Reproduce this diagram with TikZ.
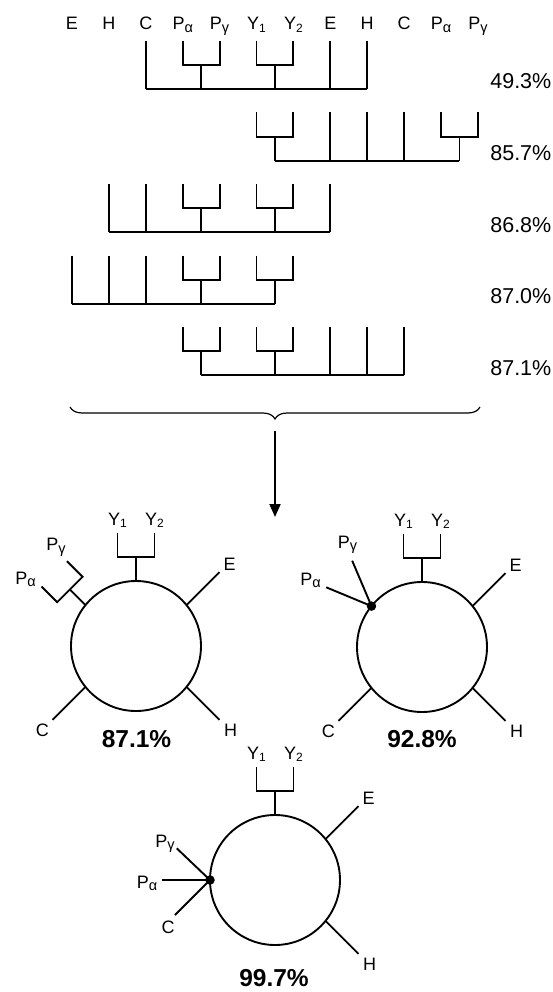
\documentclass[tikz,border=0pt]{standalone}
\usepackage{fontspec}
\setmainfont{Liberation Sans}
\usetikzlibrary{calc,arrows.meta,decorations.pathreplacing}
\newcommand\lsub[1]{\raisebox{-2.8pt}{\fontsize{12}{12}\selectfont #1}}
\newcommand\gsub[1]{\raisebox{-2.8pt}{\fontsize{14.5}{14.5}\selectfont #1}}
\newcommand\X[1]{{72+36.9*(#1)}}
\newcommand\dtree[5]{%
  \foreach \s in {#2} {\draw[ln] (\X{\s},#1) -- (\X{\s},#1+48.3);}
  \foreach \a/\b in {#3} {%
    \draw[ln] (\X{\a},#1) -- (\X{\a},#1+24.3) -- (\X{\b},#1+24.3) -- (\X{\b},#1);
    \draw[ln] (\X{(\a+\b)/2},#1+24.3) -- (\X{(\a+\b)/2},#1+48.3);}
  \draw[ln] (\X{#4},#1+48.3) -- (\X{#5},#1+48.3);}
\newcommand\ybr[1]{%
  \draw[ln] (#1.90) -- ++(0,-24) coordinate (#1j);
  \draw[ln] ($(#1j)+(-18.5,-24)$) -- ($(#1j)+(-18.5,0)$) -- ($(#1j)+(18.5,0)$) -- ($(#1j)+(18.5,-24)$);
  \node[lbl] (#1y1) at ($(#1j)+(-18.5,-32)$) {Y\lsub{1}};
  \node[lbl] (#1y2) at ($(#1j)+(18.5,-32)$) {Y\lsub{2}};}
\newcommand\ehc[1]{%
  \draw[ln] (#1.39) -- ++(33,-33) coordinate (#1e);
  \node[lbl] (#1E) at ($(#1e)+(10,-2)$) {E};
  \draw[ln] (#1.-39) -- ++(33,33) coordinate (#1h);
  \node[lbl] (#1H) at ($(#1h)+(11,17)$) {H};}
\begin{document}
\begin{tikzpicture}[x=1pt,y=-1pt,
  lbl/.style={font=\fontsize{18}{18}\selectfont, inner sep=0pt, anchor=base},
  pct/.style={font=\fontsize{21.5}{21.5}\selectfont, inner sep=0pt, anchor=base east},
  bpct/.style={font=\fontsize{24.5}{24.5}\selectfont\bfseries, inner sep=0pt, anchor=base},
  ln/.style={line width=1.9pt, line cap=square},
  ring/.style={circle, draw, line width=1.9pt, minimum size=130pt, inner sep=0pt, outer sep=0pt},
  dotn/.style={circle, fill, minimum size=9.5pt, inner sep=0pt}]
\useasboundingbox (0,0) rectangle (553,992);
% header
\foreach \i/\t in {0/E,1/H,2/C,3/P\gsub{α},4/P\gsub{γ},5/Y\lsub{1},6/Y\lsub{2},7/E,8/H,9/C,10/P\gsub{α},11/P\gsub{γ}}
  {\node[lbl] (h\i) at (\X{\i},30) {\t};}
% trees
\dtree{40.7}{2,7,8}{3/4,5/6}{2}{8}
\dtree{112.3}{7,8,9}{5/6,10/11}{5.5}{10.5}
\dtree{183.9}{1,2,7}{3/4,5/6}{1}{7}
\dtree{255.5}{0,1,2}{3/4,5/6}{0}{5.5}
\dtree{327.1}{7,8,9}{3/4,5/6}{3.5}{9}
\node[pct] (p1) at (551.5,89) {49.3\%};
\node[pct] (p2) at (551.5,160.6) {85.7\%};
\node[pct] (p3) at (551.5,232.2) {86.8\%};
\node[pct] (p4) at (551.5,303.8) {87.0\%};
\node[pct] (p5) at (551.5,375.4) {87.1\%};
% brace and arrow
\coordinate (bl) at (70,407);
\coordinate (br) at (480,407);
\draw[line width=1.2pt, decorate, decoration={brace, amplitude=12pt, mirror}] (bl) -- (br);
\coordinate (as) at (275,431);
\coordinate (ae) at (275,517);
\draw[line width=1.9pt, -{Triangle[length=13pt,width=11pt]}] (as) -- (ae);
% circles
\node[ring] (c1) at (136,646) {};
\node[ring] (c2) at (422,647) {};
\node[ring] (c3) at (275,880) {};
\ybr{c1}\ybr{c2}\ybr{c3}
\ehc{c1}\ehc{c2}\ehc{c3}
% left circle
\draw[ln] (c1.-141) -- ++(-33,33) coordinate (c1c);
\node[lbl] (c1C) at ($(c1c)+(-10,17)$) {C};
\draw[ln] (c1.141) -- ++(-15.6,-15.6) coordinate (c1j2);
\draw[ln] ($(c1j2)+(-28.3,-2.9)$) coordinate (c1a) -- ($(c1j2)+(-12.7,12.7)$) -- ($(c1j2)+(12.7,-12.7)$) -- ($(c1j2)+(-2.9,-28.3)$) coordinate (c1g);
\node[lbl] (c1Pa) at ($(c1a)+(-16,-2.6)$) {P\gsub{α}};
\node[lbl] (c1Pg) at ($(c1g)+(-11,-11)$) {P\gsub{γ}};
\node[bpct] (q1) at (136.5,747) {87.1\%};
% right circle
\draw[ln] (c2.-141) -- ++(-33,33) coordinate (c2c);
\node[lbl] (c2C) at ($(c2c)+(-10,17)$) {C};
\draw[ln] (c2.141) -- ++(-45.3,-18.8) coordinate (c2a);
\draw[ln] (c2.141) -- ++(-19.3,-45.4) coordinate (c2g);
\node[dotn] (d2) at (c2.141) {};
\node[lbl] (c2Pa) at ($(c2a)+(-15.7,-2.3)$) {P\gsub{α}};
\node[lbl] (c2Pg) at ($(c2g)+(-4.7,-12.7)$) {P\gsub{γ}};
\node[bpct] (q2) at (422,747) {92.8\%};
% bottom circle
\draw[ln] (c3.180) -- ++(-48.3,0) coordinate (c3a);
\draw[ln] (c3.180) -- ++(-33.3,-31.7) coordinate (c3g);
\draw[ln] (c3.180) -- ++(-35,35) coordinate (c3c);
\node[dotn] (d3) at (c3.180) {};
\node[lbl] (c3Pa) at ($(c3a)+(-14.7,8)$) {P\gsub{α}};
\node[lbl] (c3Pg) at ($(c3g)+(-11.7,-1.3)$) {P\gsub{γ}};
\node[lbl] (c3C) at ($(c3c)+(-7,18)$) {C};
\node[bpct] (q3) at (274,986.5) {99.7\%};
\end{tikzpicture}
\end{document}
